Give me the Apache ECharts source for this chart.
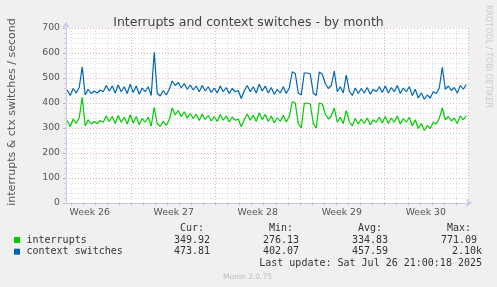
<!DOCTYPE html>
<html>
<head>
<meta charset="utf-8">
<script src="https://cdn.jsdelivr.net/npm/echarts@6/dist/echarts.min.js"></script>
<style>
  html, body { margin: 0; padding: 0; background: #f0f0f0; }
  #chart { width: 497px; height: 287px; }
</style>
</head>
<body>
<div id="chart"></div>
<script>
// x is counted in days from the Sunday that opens week 26, one sample every 6 hours
var startDay = 1.625;
var stepDay = 0.25;

var weekLabels = ['Week 26', 'Week 27', 'Week 28', 'Week 29', 'Week 30'];
var weekCenters = [3.5, 10.5, 17.5, 24.5, 31.5];
var dayLines = [2, 3, 4, 5, 6, 7, 8, 9, 10, 11, 12, 13, 14, 15, 16, 17, 18, 19, 20,
  21, 22, 23, 24, 25, 26, 27, 28, 29, 30, 31, 32, 33, 34, 35];

var interrupts = [
  330, 305, 336, 318, 340, 423, 308, 333, 316, 326,
  318, 330, 323, 348, 326, 346, 318, 350, 323, 343,
  316, 353, 320, 346, 313, 338, 323, 343, 308, 383,
  318, 306, 328, 310, 333, 380, 352, 370, 345, 365,
  340, 358, 338, 355, 330, 356, 334, 350, 328, 346,
  326, 354, 331, 348, 324, 344, 331, 336, 305, 334,
  356, 331, 351, 326, 361, 334, 354, 326, 348, 321,
  341, 326, 351, 324, 346, 405, 400, 318, 300, 398,
  400, 396, 318, 300, 400, 396, 356, 336, 348, 380,
  323, 343, 318, 370, 326, 308, 338, 316, 336, 318,
  340, 313, 333, 323, 343, 320, 346, 318, 340, 323,
  348, 316, 338, 323, 343, 308, 333, 298, 318, 290,
  310, 298, 323, 316, 338, 380, 333, 346, 328, 340,
  318, 348, 333, 349.92
];

var ctxSwitches = [
  452, 430, 458, 440, 462, 545, 432, 455, 438, 448,
  440, 452, 445, 470, 448, 468, 440, 472, 445, 465,
  438, 475, 442, 468, 435, 460, 445, 465, 430, 603,
  440, 428, 450, 432, 455, 488, 470, 482, 460, 478,
  455, 472, 452, 468, 445, 470, 448, 465, 442, 460,
  440, 468, 445, 462, 438, 458, 445, 450, 418, 448,
  470, 445, 465, 440, 475, 448, 468, 440, 462, 435,
  455, 440, 465, 438, 460, 525, 518, 440, 432, 520,
  520, 516, 440, 430, 524, 515, 478, 458, 470, 528,
  445, 465, 440, 512, 448, 430, 460, 438, 458, 440,
  462, 435, 455, 445, 465, 442, 468, 440, 462, 445,
  470, 438, 460, 445, 465, 430, 455, 420, 440, 415,
  432, 420, 445, 438, 460, 543, 455, 468, 450, 462,
  440, 470, 455, 473.81
];

var seriesNames = ['interrupts', 'context switches'];
var seriesColors = ['#00cc00', '#0066b3'];
var statHeaders = ['Cur:', 'Min:', 'Avg:', 'Max:'];
var statRows = [
  ['349.92', '276.13', '334.83', '771.09'],
  ['473.81', '402.07', '457.59', '2.10k']
];
var lastUpdate = 'Last update: Sat Jul 26 21:00:18 2025';

function toPoints(values) {
  return values.map(function (v, i) { return [startDay + i * stepDay, v]; });
}

var gridRed = 'rgba(225,130,130,0.65)';
var gridGray = '#d8d8d8';
var mono = '"DejaVu Sans Mono", monospace';
var sans = '"DejaVu Sans", sans-serif';

// legend table below the plot
var statRight = [[210, 299, 388, 477], [210, 299, 388, 482]];
var headerRight = [204, 293, 382, 471];
var graphics = [
  { type: 'text', x: 12, y: 112, rotation: Math.PI / 2,
    style: { text: 'interrupts & ctx switches / second', font: '11px ' + sans, fill: '#555', align: 'center', verticalAlign: 'middle' } },
  { type: 'text', x: 488, y: 5, rotation: -Math.PI / 2,
    style: { text: 'RRDTOOL / TOBI OETIKER', font: '8px ' + sans, fill: '#cccccc', align: 'left', verticalAlign: 'middle' } },
  { type: 'text', x: 482, y: 263.5,
    style: { text: lastUpdate, font: '10px ' + mono, fill: '#333', align: 'right', verticalAlign: 'middle' } },
  { type: 'text', x: 247.5, y: 277,
    style: { text: 'Munin 2.0.75', font: '7.5px ' + sans, fill: '#bbbbbb', align: 'center', verticalAlign: 'middle' } }
];
statHeaders.forEach(function (h, j) {
  graphics.push({ type: 'text', x: headerRight[j], y: 228.5,
    style: { text: h, font: '10px ' + mono, fill: '#333', align: 'right', verticalAlign: 'middle' } });
});
seriesNames.forEach(function (name, r) {
  var y = 240 + r * 11.7;
  graphics.push({ type: 'rect', shape: { x: 14, y: y - 3, width: 6, height: 6 }, style: { fill: seriesColors[r] } });
  graphics.push({ type: 'text', x: 26.5, y: y,
    style: { text: name, font: '10px ' + mono, fill: '#333', align: 'left', verticalAlign: 'middle' } });
  statRows[r].forEach(function (s, j) {
    graphics.push({ type: 'text', x: statRight[r][j], y: y,
      style: { text: s, font: '10px ' + mono, fill: '#333', align: 'right', verticalAlign: 'middle' } });
  });
});

var myChart = echarts.init(document.getElementById('chart'), null, { renderer: 'canvas' });

var option = {
  backgroundColor: '#f0f0f0',
  animation: false,
  title: {
    text: 'Interrupts and context switches - by month',
    left: 'center',
    top: 11,
    textStyle: { fontFamily: sans, fontSize: 12.5, fontWeight: 'normal', color: '#444' }
  },
  grid: {
    left: 66, right: 28, top: 28, bottom: 84,
    show: true, backgroundColor: '#ffffff', borderWidth: 0
  },
  xAxis: {
    type: 'value',
    min: 1.525,
    max: 35.1,
    axisLine: { show: true, lineStyle: { color: '#c8c8f0', width: 1 }, symbol: ['none', 'arrow'], symbolSize: [6, 6], symbolOffset: [0, 3] },
    axisTick: { show: true, length: 2, customValues: dayLines, lineStyle: { color: '#bbbbbb' } },
    axisLabel: {
      customValues: weekCenters,
      formatter: function (v) { return weekLabels[weekCenters.indexOf(v)]; },
      fontFamily: sans, fontSize: 9.3, color: '#555', margin: 5
    },
    splitLine: {
      show: true,
      lineStyle: {
        // every seventh day line is the week boundary
        color: [gridGray, gridGray, gridGray, gridGray, gridGray, gridRed, gridGray],
        type: [1, 2], width: 1
      }
    }
  },
  yAxis: {
    type: 'value',
    min: 0, max: 700, interval: 100,
    axisLine: { show: true, lineStyle: { color: '#c8c8f0', width: 1 }, symbol: ['none', 'arrow'], symbolSize: [6, 6], symbolOffset: [0, 6] },
    axisTick: { show: true, length: 3, lineStyle: { color: '#bbbbbb' } },
    minorTick: { show: true, splitNumber: 5, length: 2, lineStyle: { color: '#cccccc' } },
    axisLabel: { fontFamily: sans, fontSize: 9.3, color: '#555', margin: 6 },
    splitLine: { show: true, lineStyle: { color: gridRed, type: [1, 2], width: 1 } },
    minorSplitLine: { show: true, lineStyle: { color: gridGray, type: [1, 2], width: 1 } }
  },
  series: [
    {
      name: seriesNames[0], type: 'line', data: toPoints(interrupts),
      showSymbol: false, lineStyle: { color: seriesColors[0], width: 1.2 }, z: 3
    },
    {
      name: seriesNames[1], type: 'line', data: toPoints(ctxSwitches),
      showSymbol: false, lineStyle: { color: seriesColors[1], width: 1.2 }, z: 3
    }
  ],
  graphic: graphics
};

myChart.setOption(option);
</script>
</body>
</html>
